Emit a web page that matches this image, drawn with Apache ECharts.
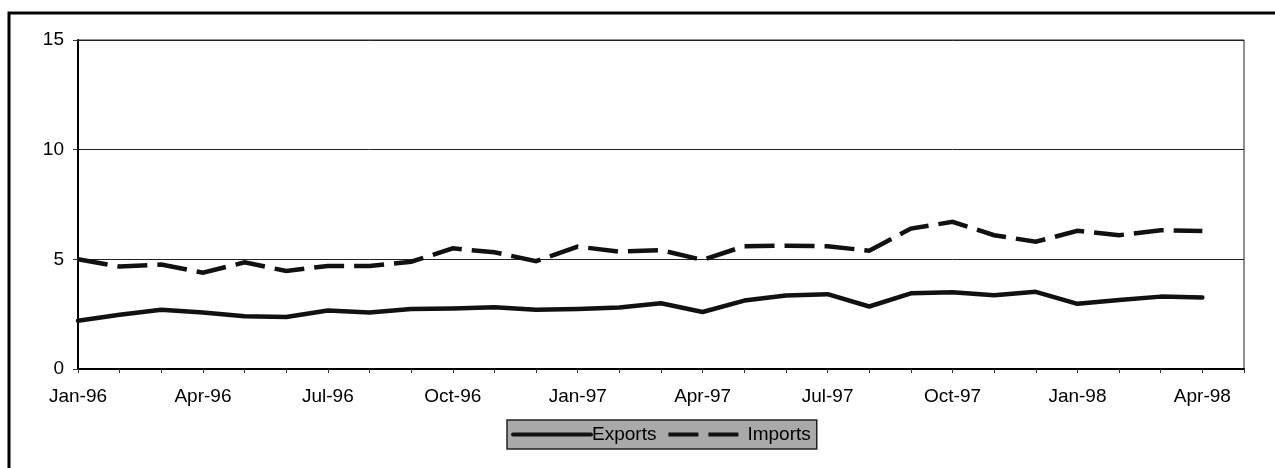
<!DOCTYPE html>
<html>
<head>
<meta charset="utf-8">
<script src="https://cdn.jsdelivr.net/npm/echarts@6/dist/echarts.min.js"></script>
<style>
html,body{margin:0;padding:0;background:#fff;}
#chart{width:1275px;height:468px;}
</style>
</head>
<body>
<div id="chart"></div>
<script>
var months = ['Jan-96','Feb-96','Mar-96','Apr-96','May-96','Jun-96','Jul-96','Aug-96','Sep-96','Oct-96','Nov-96','Dec-96',
              'Jan-97','Feb-97','Mar-97','Apr-97','May-97','Jun-97','Jul-97','Aug-97','Sep-97','Oct-97','Nov-97','Dec-97',
              'Jan-98','Feb-98','Mar-98','Apr-98','May-98'];
var exportsData = [2.2, 2.47, 2.7, 2.58, 2.4, 2.37, 2.67, 2.58, 2.74, 2.76, 2.82, 2.7,
                   2.74, 2.8, 3.0, 2.6, 3.12, 3.35, 3.41, 2.85, 3.45, 3.5, 3.36, 3.52,
                   2.97, 3.15, 3.3, 3.26];
var importsData = [5.0, 4.67, 4.76, 4.39, 4.86, 4.47, 4.7, 4.7, 4.89, 5.5, 5.32, 4.92,
                   5.58, 5.35, 5.42, 4.97, 5.6, 5.62, 5.6, 5.39, 6.4, 6.71, 6.1, 5.8,
                   6.3, 6.1, 6.33, 6.29];
var seriesNames = ['Exports', 'Imports'];
var yMin = 0, yMax = 15, yStep = 5;

var font = 'Liberation Sans, Arial, sans-serif';
var chart = echarts.init(document.getElementById('chart'));
chart.setOption({
  animation: false,
  backgroundColor: '#fff',
  graphic: [{
    type: 'polyline',
    shape: {points: [[9, 468], [9, 13], [1275, 13]]},
    style: {stroke: '#000', lineWidth: 3, fill: null}
  }],
  grid: {left: 78, top: 40, right: 31, bottom: 99, show: true, borderColor: '#222', borderWidth: 1, backgroundColor: 'transparent'},
  legend: {
    data: seriesNames,
    left: 507, top: 420,
    itemWidth: 78, itemHeight: 10, itemGap: 10,
    padding: [5, 6, 5, 4],
    backgroundColor: '#a9a9a9',
    borderColor: '#222', borderWidth: 1.5,
    itemStyle: {opacity: 0},
    lineStyle: {width: 4},
    textStyle: {fontFamily: font, fontSize: 19, color: '#000', padding: [0, 0, 0, -4]}
  },
  xAxis: {
    type: 'category',
    data: months,
    boundaryGap: false,
    axisLine: {lineStyle: {color: '#000', width: 2}},
    axisTick: {show: true, interval: 0, length: 4, lineStyle: {color: '#333'}},
    axisLabel: {interval: 2, margin: 18, fontFamily: font, fontSize: 19, color: '#000'},
    splitLine: {show: false}
  },
  yAxis: {
    type: 'value',
    min: yMin, max: yMax, interval: yStep,
    axisLine: {show: true, lineStyle: {color: '#000', width: 2}},
    axisTick: {show: true, length: 5, lineStyle: {color: '#333'}},
    axisLabel: {margin: 14, fontFamily: font, fontSize: 19, color: '#000'},
    splitLine: {show: true, lineStyle: {color: '#222', width: 1}}
  },
  series: [
    {
      name: seriesNames[0], type: 'line', data: exportsData,
      symbol: 'none',
      lineStyle: {color: '#111', width: 4.5, join: 'round', cap: 'round'},
      itemStyle: {color: '#111'}
    },
    {
      name: seriesNames[1], type: 'line', data: importsData,
      symbol: 'none',
      lineStyle: {color: '#111', width: 4.5, type: [30, 10], join: 'miter'},
      itemStyle: {color: '#111'}
    }
  ]
});
</script>
</body>
</html>
